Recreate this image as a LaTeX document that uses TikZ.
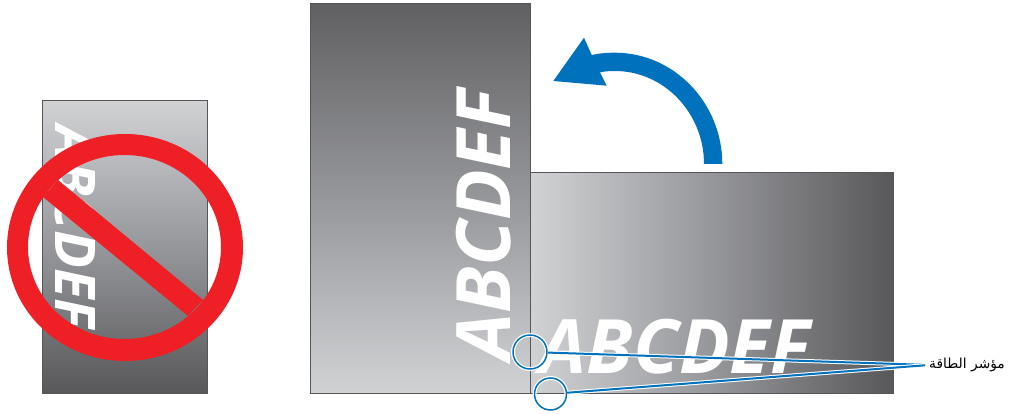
\documentclass[tikz,border=0pt]{standalone}
\usepackage{fontspec}
\usepackage{xcolor}
\setmainfont{Open Sans}
\newfontfamily\arabicfont[Script=Arabic]{DejaVu Sans}
\TeXXeTstate=1
\usetikzlibrary{positioning, arrows.meta, calc}
\definecolor{cLight}{HTML}{D1D2D4}
\definecolor{cMid}{HTML}{96979B}
\definecolor{cDark}{HTML}{58585A}
\definecolor{cEdge}{HTML}{55565A}
\definecolor{cBlue}{HTML}{0071BC}
\definecolor{cRed}{HTML}{EF1F26}
\tikzset{
  panel/.style={
    draw=cEdge, line width=1pt,
    inner sep=0pt,
    minimum width=#1
  },
  sample/.style={
    text=white,
    inner sep=0pt,
    font=\fontsize{#1}{#1}\selectfont\bfseries\itshape
  },
  pointer/.style={
    circle,
    draw=cBlue, line width=1.5pt,
    inner sep=0pt,
    preaction={draw=white, line width=4pt}
  },
  leader/.style={
    draw=cBlue, line width=2pt,
    shorten >=4pt,
    preaction={draw=white, line width=4pt}
  }
}

\begin{document}
\begin{tikzpicture}[x=1pt, y=-1pt]
  \useasboundingbox (0,0) rectangle (1009,414);

  % small panel with the sign over it
  \node[panel=165pt, minimum height=292pt, top color=cLight, bottom color=cDark, middle color=cMid] (small) at (124.5,247) {};
  \node[sample=56, rotate=-90] (smalltext) at (76,227) {ABCDEF};
  \fill[cRed, even odd rule] (125,247.5) ellipse [x radius=118, y radius=113.5]
    (124.5,247) ellipse [x radius=96.5, y radius=92];
  \fill[cRed] (58,180) -- (43,197) -- (188,316) -- (203,300) -- cycle;

  % the two large panels
  \node[panel=220pt, minimum height=389pt, top color=cDark!95!white, bottom color=cLight, middle color=cMid] (tall) at (420,198.5) {};
  \node[panel=363pt, minimum height=220pt, left color=cLight, right color=cDark, middle color=cMid] (wide) at (711.5,283) {};
  \node[sample=75, rotate=90] (talltext) at (484,225) {ABCDEF};
  \node[sample=75] (widetext) at (675,347) {ABCDEF};

  % turn arrow
  \fill[cBlue] (722.3,164) .. controls (722.3,103) and (674,52.7) .. (615,52.7)
    .. controls (606,52.7) and (598,53.5) .. (591.7,55) -- (584,37.7) -- (553.3,81)
    -- (606.7,85.7) -- (600,72.3) .. controls (605,71.3) and (610,71) .. (615,71)
    .. controls (664,71) and (704,113) .. (704,164) -- cycle;

  % indicator label
  \node[inner sep=0pt, anchor=west, font=\fontsize{13.8}{14}\arabicfont] (label) at (929,365) {\beginR مؤشر الطاقة\endR};
  \node[pointer, minimum size=34pt] (ledtop) at (530,352) {};
  \node[pointer, minimum size=32pt] (ledbot) at (550.5,394) {};
  \draw[leader] (ledtop) -- (label.west);
  \draw[leader] (ledbot) -- (label.west);
\end{tikzpicture}
\end{document}
